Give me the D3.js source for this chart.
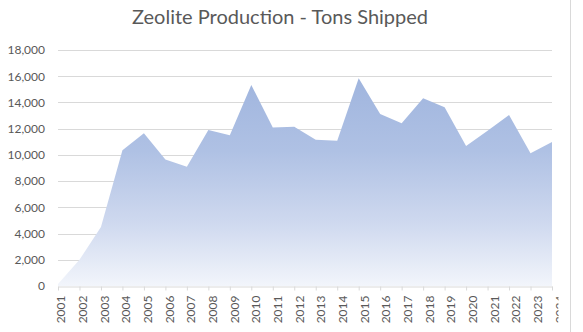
<!DOCTYPE html>
<html>
<head>
<meta charset="utf-8">
<script src="https://cdn.jsdelivr.net/npm/d3@7"></script>
<style>
  html, body { margin: 0; padding: 0; background: #ffffff; }
  svg { display: block; }
  text { font-family: Lato, "Open Sans", sans-serif; fill: #595959; }
</style>
</head>
<body>
<svg id="chart" width="583" height="332"></svg>
<script>
const title = "Zeolite Production - Tons Shipped";
const years = ["2001","2002","2003","2004","2005","2006","2007","2008","2009","2010","2011","2012",
               "2013","2014","2015","2016","2017","2018","2019","2020","2021","2022","2023","2024"];
const tons = [150, 2000, 4500, 10350, 11650, 9650, 9100, 11900, 11500, 15330, 12080, 12150,
              11150, 11070, 15850, 13120, 12420, 14320, 13630, 10680, 11850, 13040, 10130, 10980];
const yTicks = [0, 2000, 4000, 6000, 8000, 10000, 12000, 14000, 16000, 18000];

const svg = d3.select("#chart");
const W = 583, H = 332;
const m = { left: 58, right: 31, top: 50, bottom: 46 };
const x = d3.scalePoint().domain(years).range([m.left, W - m.right]);
// category labels drift slightly right of their tick marks in the original
const xLab = d3.scalePoint().domain(years).range([m.left + 2.5, W - m.right + 7]);
const y = d3.scaleLinear().domain([0, 18000]).range([H - m.bottom, m.top]);

// gradient
const defs = svg.append("defs");
const grad = defs.append("linearGradient")
  .attr("id", "areaGrad").attr("gradientUnits", "userSpaceOnUse")
  .attr("x1", 0).attr("x2", 0)
  .attr("y1", y(d3.max(tons))).attr("y2", y(0));
grad.append("stop").attr("offset", "0").attr("stop-color", "#a0b5de");
grad.append("stop").attr("offset", "0.35").attr("stop-color", "#afc1e4");
grad.append("stop").attr("offset", "0.7").attr("stop-color", "#cfd9ef");
grad.append("stop").attr("offset", "1").attr("stop-color", "#f2f5fb");

defs.append("clipPath").attr("id", "labClip")
  .append("rect").attr("x", 0).attr("y", -10).attr("width", 558.5).attr("height", H);

// title
svg.append("text")
  .attr("x", 280).attr("y", 24)
  .attr("text-anchor", "middle")
  .style("font-size", "20px")
  .text(title);

// gridlines
svg.append("g").selectAll("line").data(yTicks.filter(d => d > 0)).join("line")
  .attr("x1", m.left).attr("x2", W - m.right)
  .attr("y1", d => Math.round(y(d)) + 0.5).attr("y2", d => Math.round(y(d)) + 0.5)
  .attr("stroke", "#d9d9d9").attr("stroke-width", 1);

// y axis labels
const yAxis = d3.axisLeft(y).tickValues(yTicks).tickSize(0).tickPadding(0)
  .tickFormat(d3.format(","));
const gy = svg.append("g").attr("transform", `translate(${45},0)`).call(yAxis);
gy.select(".domain").remove();
gy.selectAll("text").style("font-size", "12px").style("font-family", "Lato, sans-serif").attr("fill", "#595959");

// area
const area = d3.area()
  .x((d, i) => x(years[i]))
  .y0(y(0))
  .y1(d => y(d));
svg.append("path").datum(tons)
  .attr("d", area)
  .attr("fill", "url(#areaGrad)");

// x axis (line + ticks)
const axisY = Math.round(y(0)) + 0.5;
const xAxis = d3.axisBottom(x).tickSize(4).tickSizeOuter(0).tickFormat("");
const gx = svg.append("g").attr("transform", `translate(0,${axisY})`).call(xAxis);
gx.select(".domain").attr("stroke", "#d9d9d9");
gx.selectAll(".tick line").attr("stroke", "#d9d9d9");

// x category labels
const xLabAxis = d3.axisBottom(xLab).tickSize(0).tickSizeOuter(0);
const gl = svg.append("g").attr("transform", `translate(0,${axisY})`).call(xLabAxis);
gl.select(".domain").remove();
gl.attr("clip-path", "url(#labClip)");
gl.selectAll("text")
  .style("font-size", "12px").style("font-family", "Lato, sans-serif").attr("fill", "#595959")
  .attr("text-anchor", "end")
  .attr("transform", "rotate(-90)")
  .attr("x", -9).attr("y", 0).attr("dy", "0.35em");

// right border
svg.append("line").attr("x1", 570.5).attr("x2", 570.5).attr("y1", 0).attr("y2", H)
  .attr("stroke", "#d9d9d9");
</script>
</body>
</html>
